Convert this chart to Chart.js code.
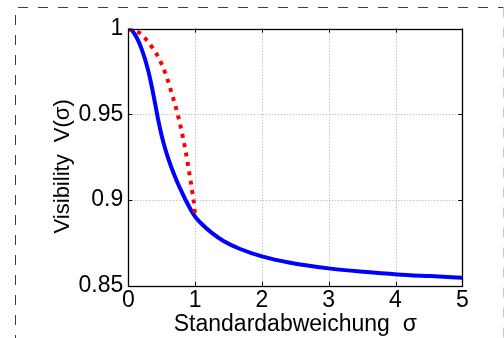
<!DOCTYPE html>
<html>
<head>
<meta charset="utf-8">
<script src="https://cdn.jsdelivr.net/npm/chart.js@4/dist/chart.umd.min.js"></script>
<style>
  html, body { margin: 0; padding: 0; background: #ffffff; }
  #wrap { position: relative; width: 504px; height: 338px; }
</style>
</head>
<body>
<div id="wrap"><canvas id="c" width="504" height="338"></canvas></div>
<script>
// ---- data ----
const blueSigma = [0, 0.05, 0.10, 0.15, 0.20, 0.25, 0.30, 0.35, 0.40, 0.45, 0.50, 0.55, 0.60, 0.65, 0.70, 0.75, 0.80, 0.875, 1.0, 1.1, 1.25, 1.425, 1.675, 2.0, 2.425, 3.0, 3.525, 4.025, 4.525, 5.0];
const blueV     = [1, 0.9990, 0.9965, 0.9928, 0.9880, 0.9822, 0.9752, 0.9665, 0.9565, 0.9463, 0.9375, 0.9302, 0.9240, 0.9185, 0.9135, 0.9089, 0.9047, 0.8987, 0.8903, 0.8860, 0.8808, 0.8761, 0.8714, 0.8671, 0.8634, 0.8601, 0.8581, 0.8566, 0.8556, 0.8547];
const redSigma  = [0, 0.04, 0.175, 0.275, 0.375, 0.45, 0.565, 0.65, 0.735, 0.80, 0.86, 0.91, 0.955, 0.985, 1.0];
const redV      = [1, 0.9992, 0.9973, 0.9933, 0.9881, 0.9833, 0.9729, 0.9623, 0.9506, 0.9398, 0.9282, 0.9165, 0.9054, 0.8975, 0.8903];
const xTicks = [0, 1, 2, 3, 4, 5];
const xTickLabels = ['0', '1', '2', '3', '4', '5'];
const yTicks = [0.85, 0.9, 0.95, 1];
const yTickLabels = ['0.85', '0.9', '0.95', '1'];
const xTitle = 'Standardabweichung  \u03C3';
const yTitle = 'Visibility  V(\u03C3)   ';

const FONT = 'Liberation Sans, Arial, Helvetica, sans-serif';
const toPts = (xs, ys) => xs.map((x, i) => ({ x: x, y: ys[i] }));

const framePlugin = {
  id: 'frame',
  beforeDraw(chart) {
    const ctx = chart.ctx;
    ctx.save();
    ctx.fillStyle = '#ffffff';
    ctx.fillRect(0, 0, chart.width, chart.height);
    // dashed outer border
    ctx.strokeStyle = '#3c3c3c';
    ctx.lineWidth = 1;
    ctx.setLineDash([10, 10]);
    ctx.beginPath();
    ctx.moveTo(15.5, 345);
    ctx.lineTo(15.5, 7.5);
    ctx.lineTo(503.5, 7.5);
    ctx.stroke();
    ctx.strokeStyle = '#c8c8c8';
    ctx.beginPath();
    ctx.moveTo(503.5, 7.5);
    ctx.lineTo(503.5, 345);
    ctx.stroke();
    ctx.restore();
  },
  beforeDatasetsDraw(chart) {
    // dotted grid
    const ctx = chart.ctx;
    const a = chart.chartArea;
    const xs = chart.scales.x, ys = chart.scales.y;
    ctx.save();
    ctx.strokeStyle = '#a8a8a8';
    ctx.lineWidth = 1;
    ctx.setLineDash([1, 2]);
    ctx.beginPath();
    xTicks.forEach(v => {
      const px = Math.round(xs.getPixelForValue(v)) + 0.5;
      ctx.moveTo(px, a.bottom); ctx.lineTo(px, a.top);
    });
    yTicks.forEach(v => {
      const py = Math.round(ys.getPixelForValue(v)) + 0.5;
      ctx.moveTo(a.left, py); ctx.lineTo(a.right, py);
    });
    ctx.stroke();
    ctx.restore();
  },
  afterDatasetsDraw(chart) {
    const ctx = chart.ctx;
    const a = chart.chartArea;
    const xs = chart.scales.x, ys = chart.scales.y;
    ctx.save();
    ctx.strokeStyle = '#000000';
    ctx.lineWidth = 1;
    ctx.setLineDash([]);
    ctx.beginPath();
    // inward tick marks
    xTicks.forEach(v => {
      const px = Math.round(xs.getPixelForValue(v)) + 0.5;
      ctx.moveTo(px, a.bottom); ctx.lineTo(px, a.bottom - 4);
      ctx.moveTo(px, a.top); ctx.lineTo(px, a.top + 4);
    });
    yTicks.forEach(v => {
      const py = Math.round(ys.getPixelForValue(v)) + 0.5;
      ctx.moveTo(a.left, py); ctx.lineTo(a.left + 4, py);
      ctx.moveTo(a.right, py); ctx.lineTo(a.right - 4, py);
    });
    ctx.stroke();
    ctx.lineWidth = 1.3;
    ctx.strokeRect(Math.round(a.left) + 0.5, Math.round(a.top) + 0.5,
                   Math.round(a.right - a.left), Math.round(a.bottom - a.top));
    ctx.restore();
  }
};

new Chart(document.getElementById('c'), {
  type: 'line',
  data: {
    datasets: [
      {
        label: 'red',
        data: toPts(redSigma, redV),
        borderColor: '#ff0000',
        borderWidth: 4,
        borderDash: [4, 5.5],
        borderCapStyle: 'butt',
        pointRadius: 0,
        tension: 0.4,
        cubicInterpolationMode: 'monotone',
        fill: false
      },
      {
        label: 'blue',
        data: toPts(blueSigma, blueV),
        borderColor: '#0000ff',
        borderWidth: 4,
        pointRadius: 0,
        tension: 0.4,
        cubicInterpolationMode: 'monotone',
        fill: false
      }
    ]
  },
  options: {
    responsive: false,
    animation: false,
    devicePixelRatio: 1,
    layout: { padding: { left: 0, top: 28.6, right: 41.7, bottom: 0 } },
    plugins: { legend: { display: false }, tooltip: { enabled: false } },
    scales: {
      x: {
        type: 'linear',
        min: 0, max: 5,
        afterFit(s) { s.height = 338 - 285.7; },
        afterBuildTicks(s) { s.ticks = xTicks.map(v => ({ value: v })); },
        ticks: {
          color: '#000000',
          font: { family: FONT, size: 23 },
          padding: 1,
          maxRotation: 0,
          autoSkip: false,
          callback: (v, i) => xTickLabels[i]
        },
        grid: { display: false, drawTicks: false },
        border: { display: false },
        title: {
          display: true,
          text: xTitle,
          color: '#000000',
          font: { family: FONT, size: 23 },
          padding: { top: 0, bottom: 0 }
        }
      },
      y: {
        type: 'linear',
        min: 0.85, max: 1,
        afterFit(s) { s.width = 128.3; },
        afterBuildTicks(s) { s.ticks = yTicks.map(v => ({ value: v })); },
        ticks: {
          color: '#000000',
          font: { family: FONT, size: 23 },
          padding: 5,
          autoSkip: false,
          callback: (v, i) => yTickLabels[i]
        },
        grid: { display: false, drawTicks: false },
        border: { display: false },
        title: {
          display: true,
          text: yTitle,
          color: '#000000',
          font: { family: FONT, size: 22 },
          padding: { top: 50, bottom: 0 }
        }
      }
    }
  },
  plugins: [framePlugin]
});
</script>
</body>
</html>
